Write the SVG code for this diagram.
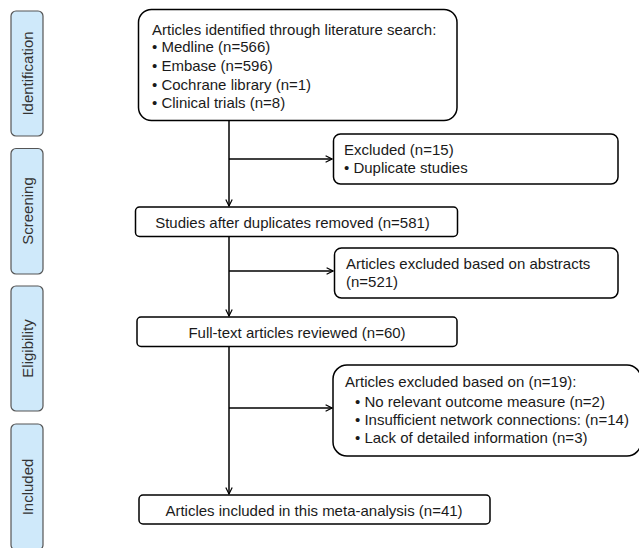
<svg xmlns="http://www.w3.org/2000/svg" width="639" height="548" viewBox="0 0 639 548">
<style>
text{font-family:"Liberation Sans",Arial,sans-serif;font-size:15px;fill:#1a1a1a}
.stage{fill:#cfe9fa;stroke:#555;stroke-width:1.2}
.stage-t{font-size:15px;fill:#333;text-anchor:middle}
.box{fill:#fff;stroke:#000;stroke-width:1.5}
.c{fill:none;stroke:#000;stroke-width:1.5}
.mid{text-anchor:middle}
</style>
<defs>
<marker id="ah" viewBox="0 0 10 10" refX="9" refY="5" markerWidth="8" markerHeight="8" markerUnits="userSpaceOnUse" orient="auto">
<path d="M1,1 L9,5 L1,9" fill="none" stroke="#000" stroke-width="1.5"/>
</marker>
</defs>
<rect width="639" height="548" fill="#fff"/>
<g id="stage-identification"><rect class="stage" x="11" y="11" width="32" height="125" rx="5"/><text class="stage-t" transform="translate(33,73.5) rotate(-90)">Identification</text></g>
<g id="stage-screening"><rect class="stage" x="11" y="148.5" width="32" height="125.5" rx="5"/><text class="stage-t" transform="translate(33,211) rotate(-90)">Screening</text></g>
<g id="stage-eligibility"><rect class="stage" x="11" y="286" width="32" height="125" rx="5"/><text class="stage-t" transform="translate(33,348.5) rotate(-90)">Eligibility</text></g>
<g id="stage-included"><rect class="stage" x="11" y="424" width="32" height="126" rx="5"/><text class="stage-t" transform="translate(33,487) rotate(-90)">Included</text></g>

<g id="connectors">
<path class="c" d="M229,121 V206" marker-end="url(#ah)"/>
<path class="c" d="M229,159 H332" marker-end="url(#ah)"/>
<path class="c" d="M229,237 V316" marker-end="url(#ah)"/>
<path class="c" d="M229,271 H333" marker-end="url(#ah)"/>
<path class="c" d="M229,347 V494" marker-end="url(#ah)"/>
<path class="c" d="M229,408 H332" marker-end="url(#ah)"/>
</g>

<g id="n-identified">
<rect class="box" x="138.5" y="9.5" width="318.5" height="111" rx="13"/>
<text x="152" y="34.5">Articles identified through literature search:</text>
<text x="152" y="52">• Medline (n=566)</text>
<text x="152" y="71">• Embase (n=596)</text>
<text x="152" y="89.5">• Cochrane library (n=1)</text>
<text x="152" y="107.5">• Clinical trials (n=8)</text>
</g>
<g id="n-duplicates">
<rect class="box" x="333.5" y="134" width="284.5" height="50" rx="7"/>
<text x="344" y="155">Excluded (n=15)</text>
<text x="344" y="173">• Duplicate studies</text>
</g>
<g id="n-after-dup">
<rect class="box" x="135.5" y="207" width="322" height="29.5" rx="4"/>
<text class="mid" x="292.5" y="227.5">Studies after duplicates removed (n=581)</text>
</g>
<g id="n-abstracts">
<rect class="box" x="334.5" y="248" width="283.5" height="50" rx="7"/>
<text x="346" y="269">Articles excluded based on abstracts</text>
<text x="346" y="287">(n=521)</text>
</g>
<g id="n-fulltext">
<rect class="box" x="137" y="317" width="320" height="29.5" rx="4"/>
<text class="mid" x="297" y="337.5">Full-text articles reviewed (n=60)</text>
</g>
<g id="n-excluded-fulltext">
<rect class="box" x="333" y="365" width="308" height="91" rx="14"/>
<text x="345" y="387">Articles excluded based on (n=19):</text>
<text x="355" y="407">• No relevant outcome measure (n=2)</text>
<text x="355" y="424.5">• Insufficient network connections: (n=14)</text>
<text x="355" y="443">• Lack of detailed information (n=3)</text>
</g>
<g id="n-included">
<rect class="box" x="139" y="495" width="351" height="29" rx="4"/>
<text class="mid" x="314" y="515.5">Articles included in this meta-analysis (n=41)</text>
</g>
</svg>
